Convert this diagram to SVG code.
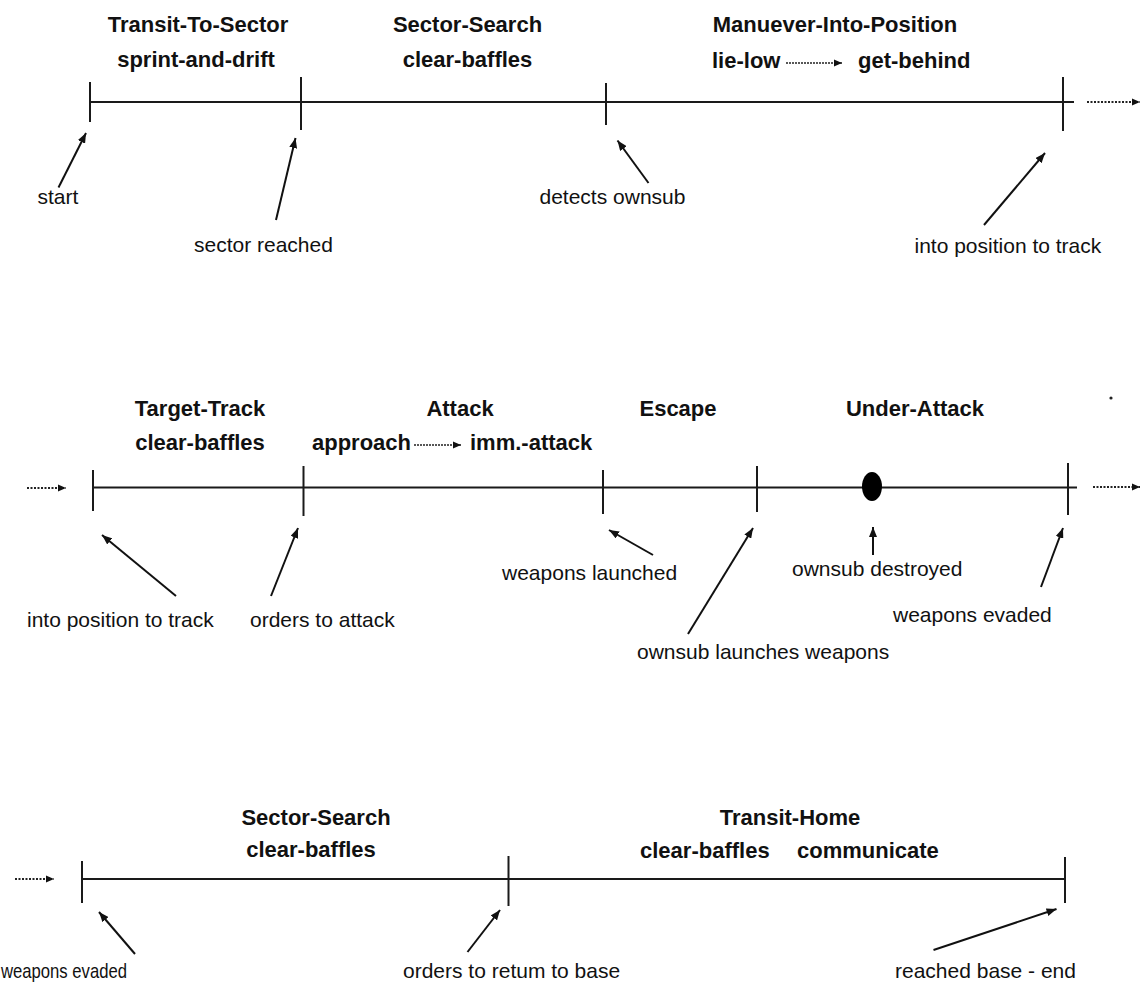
<svg xmlns="http://www.w3.org/2000/svg" width="1141" height="984" viewBox="0 0 1141 984">
<style>
.ph{font-family:"Liberation Sans",Arial,sans-serif;font-weight:bold;font-size:22px;fill:#111}
.lb{font-family:"Liberation Sans",Arial,sans-serif;font-size:21px;fill:#111}
.tl{stroke:#1a1a1a;stroke-width:2;fill:none}
.tk{stroke:#1a1a1a;stroke-width:2;fill:none}
.ar{stroke:#111;stroke-width:2;fill:none;marker-end:url(#ah)}
.dt{stroke:#222;stroke-width:1.8;stroke-dasharray:2 1.5;fill:none;marker-end:url(#ahs)}
.ia{stroke:#222;stroke-width:1.3;stroke-dasharray:2 1;fill:none;marker-end:url(#ahs)}
</style>
<defs>
<marker id="ah" markerUnits="userSpaceOnUse" markerWidth="11" markerHeight="8" refX="10" refY="4" orient="auto">
<path d="M0,0 L10,4 L0,8 z" fill="#111"/>
</marker>
<marker id="ahs" markerUnits="userSpaceOnUse" markerWidth="9" markerHeight="8" refX="8" refY="4" orient="auto">
<path d="M0,0.5 L8,4 L0,7.5 z" fill="#111"/>
</marker>
</defs>
<rect width="1141" height="984" fill="#fff"/>

<g id="timeline-1">
<line class="tl" x1="90" y1="102" x2="1074" y2="102"/>
<line class="tk" x1="90" y1="82" x2="90" y2="122"/>
<line class="tk" x1="301" y1="77" x2="301" y2="130"/>
<line class="tk" x1="606" y1="83" x2="606" y2="125"/>
<line class="tk" x1="1063" y1="77" x2="1063" y2="131"/>
</g>
<g id="timeline-2">
<line class="tl" x1="93" y1="487.5" x2="1077" y2="487.5"/>
<line class="tk" x1="93" y1="470" x2="93" y2="511"/>
<line class="tk" x1="303.5" y1="466" x2="303.5" y2="516"/>
<line class="tk" x1="603" y1="470" x2="603" y2="514"/>
<line class="tk" x1="757" y1="466" x2="757" y2="512"/>
<line class="tk" x1="1068" y1="463" x2="1068" y2="515"/>
</g>
<g id="ownsub-destroyed-mark">
<ellipse cx="872" cy="486.5" rx="10" ry="14.5" fill="#000"/>
</g>
<g id="timeline-3">
<line class="tl" x1="82" y1="879" x2="1065" y2="879"/>
<line class="tk" x1="82" y1="861" x2="82" y2="903"/>
<line class="tk" x1="508.5" y1="856" x2="508.5" y2="906"/>
<line class="tk" x1="1065" y1="857" x2="1065" y2="903"/>
</g>

<g id="phase-transit-to-sector">
<text class="ph" x="198" y="32" text-anchor="middle">Transit-To-Sector</text>
<text class="ph" x="196" y="67" text-anchor="middle">sprint-and-drift</text>
</g>
<g id="phase-sector-search-1">
<text class="ph" x="467.5" y="32" text-anchor="middle">Sector-Search</text>
<text class="ph" x="467.5" y="67" text-anchor="middle">clear-baffles</text>
</g>
<g id="phase-manuever-into-position">
<text class="ph" x="835" y="32" text-anchor="middle">Manuever-Into-Position</text>
<text class="ph" x="712" y="68">lie-low</text>
<line class="ia" x1="786" y1="63" x2="842" y2="63"/>
<text class="ph" x="858" y="68">get-behind</text>
</g>
<g id="phase-target-track">
<text class="ph" x="200" y="416" text-anchor="middle">Target-Track</text>
<text class="ph" x="200" y="450" text-anchor="middle">clear-baffles</text>
</g>
<g id="phase-attack">
<text class="ph" x="460" y="416" text-anchor="middle">Attack</text>
<text class="ph" x="312" y="450">approach</text>
<line class="ia" x1="414" y1="445" x2="461" y2="445"/>
<text class="ph" x="470" y="450">imm.-attack</text>
</g>
<g id="phase-escape">
<text class="ph" x="678" y="416" text-anchor="middle">Escape</text>
</g>
<g id="phase-under-attack">
<text class="ph" x="915" y="416" text-anchor="middle">Under-Attack</text>
</g>
<g id="phase-sector-search-2">
<text class="ph" x="316" y="825" text-anchor="middle">Sector-Search</text>
<text class="ph" x="311" y="857" text-anchor="middle">clear-baffles</text>
</g>
<g id="phase-transit-home">
<text class="ph" x="790" y="825" text-anchor="middle">Transit-Home</text>
<text class="ph" x="640" y="858">clear-baffles</text>
<text class="ph" x="797" y="858">communicate</text>
</g>

<g id="event-start"><text class="lb" x="37.5" y="204">start</text></g>
<g id="event-sector-reached"><text class="lb" x="194" y="252">sector reached</text></g>
<g id="event-detects-ownsub"><text class="lb" x="539.5" y="204">detects ownsub</text></g>
<g id="event-into-position-1"><text class="lb" x="914.5" y="253">into position to track</text></g>
<g id="event-into-position-2"><text class="lb" x="27" y="627">into position to track</text></g>
<g id="event-orders-to-attack"><text class="lb" x="250" y="627">orders to attack</text></g>
<g id="event-weapons-launched"><text class="lb" x="502" y="580">weapons launched</text></g>
<g id="event-ownsub-launches"><text class="lb" x="637" y="659">ownsub launches weapons</text></g>
<g id="event-ownsub-destroyed"><text class="lb" x="792" y="576">ownsub destroyed</text></g>
<g id="event-weapons-evaded-1"><text class="lb" x="893" y="622">weapons evaded</text></g>
<g id="event-weapons-evaded-2"><text class="lb" x="1" y="978" textLength="126" lengthAdjust="spacingAndGlyphs">weapons evaded</text></g>
<g id="event-orders-return"><text class="lb" x="403" y="978">orders to retum to base</text></g>
<g id="event-reached-base"><text class="lb" x="895" y="978">reached base - end</text></g>

<g id="connectors">
<line class="ar" x1="58.5" y1="187.5" x2="86" y2="133"/>
<line class="ar" x1="276" y1="220" x2="295.5" y2="138"/>
<line class="ar" x1="648.5" y1="183" x2="617.5" y2="140.5"/>
<line class="ar" x1="984" y1="225" x2="1045" y2="153"/>
<line class="ar" x1="176" y1="596" x2="102" y2="535"/>
<line class="ar" x1="271" y1="596" x2="298" y2="528"/>
<line class="ar" x1="653" y1="555" x2="609" y2="530"/>
<line class="ar" x1="688" y1="634" x2="753" y2="528"/>
<line class="ar" x1="873" y1="555" x2="873" y2="527"/>
<line class="ar" x1="1041" y1="587" x2="1063" y2="528"/>
<line class="ar" x1="135" y1="954" x2="99" y2="912"/>
<line class="ar" x1="467.5" y1="952" x2="500" y2="910"/>
<line class="ar" x1="933.5" y1="950" x2="1056.5" y2="909"/>
<line class="dt" x1="1087" y1="102" x2="1140" y2="102"/>
<line class="dt" x1="27" y1="488" x2="66" y2="488"/>
<line class="dt" x1="1093" y1="487" x2="1140" y2="487"/>
<line class="dt" x1="15" y1="879" x2="54" y2="879"/>
</g>
<circle cx="1111" cy="398" r="1.6" fill="#222"/>
</svg>
